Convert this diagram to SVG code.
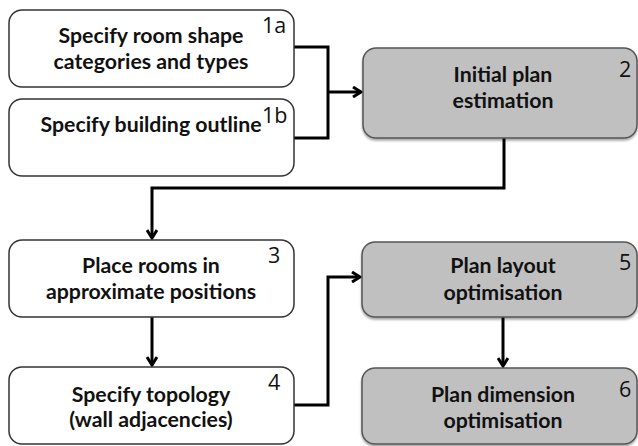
<svg xmlns="http://www.w3.org/2000/svg" width="638" height="446" viewBox="0 0 638 446">
<defs>
<marker id="arr" viewBox="0 0 12 12" refX="10" refY="6" markerWidth="12" markerHeight="12" markerUnits="userSpaceOnUse" orient="auto">
<path d="M2,1 L10,6 L2,11" fill="none" stroke="#000" stroke-width="3"/>
</marker>
<filter id="sh" x="-5%" y="-5%" width="110%" height="120%">
<feDropShadow dx="0" dy="2" stdDeviation="1.2" flood-color="#000" flood-opacity="0.35"/>
</filter>
</defs>
<style>
.w{fill:#fff;stroke:#333;stroke-width:1.5}
.g{fill:#c0c0c0;stroke:#555;stroke-width:1.5}
.t{font-family:Lato,"Liberation Sans",sans-serif;font-weight:bold;font-size:21.3px;fill:#111;text-anchor:middle}
.n{font-family:"Open Sans","Liberation Sans",sans-serif;font-size:21.5px;fill:#111}
.c{fill:none;stroke:#000;stroke-width:3}
</style>
<g id="connectors">
<polyline class="c" points="294,47 328,47 328,138 294,138"/>
<line class="c" x1="328" y1="92" x2="361" y2="92" marker-end="url(#arr)"/>
<polyline class="c" points="504,138 504,188 152,188 152,238" marker-end="url(#arr)"/>
<line class="c" x1="152" y1="317" x2="152" y2="365" marker-end="url(#arr)"/>
<polyline class="c" points="294,405 328,405 328,277 360,277" marker-end="url(#arr)"/>
<line class="c" x1="503" y1="317" x2="503" y2="366" marker-end="url(#arr)"/>
</g>
<g id="node1a">
<rect class="w" x="9" y="10" width="285" height="77" rx="13"/>
<text class="t" x="151" y="43">Specify room shape</text>
<text class="t" x="151" y="69">categories and types</text>
<text class="n" x="262" y="33">1a</text>
</g>
<g id="node1b">
<rect class="w" x="9" y="99" width="285" height="77" rx="13"/>
<text class="t" x="151" y="132">Specify building outline</text>
<text class="n" x="262" y="123">1b</text>
</g>
<g id="node2">
<rect class="g" x="363" y="48" width="274" height="90" rx="13" filter="url(#sh)"/>
<text class="t" x="503" y="82">Initial plan</text>
<text class="t" x="503" y="108">estimation</text>
<text class="n" x="619" y="77">2</text>
</g>
<g id="node3">
<rect class="w" x="9" y="240" width="285" height="77" rx="13"/>
<text class="t" x="151" y="273">Place rooms in</text>
<text class="t" x="151" y="299">approximate positions</text>
<text class="n" x="268" y="263">3</text>
</g>
<g id="node4">
<rect class="w" x="9" y="367" width="285" height="77" rx="13"/>
<text class="t" x="151" y="402">Specify topology</text>
<text class="t" x="151" y="427">(wall adjacencies)</text>
<text class="n" x="268" y="390">4</text>
</g>
<g id="node5">
<rect class="g" x="362" y="242" width="275" height="75" rx="13" filter="url(#sh)"/>
<text class="t" x="503" y="273">Plan layout</text>
<text class="t" x="503" y="300">optimisation</text>
<text class="n" x="619" y="270">5</text>
</g>
<g id="node6">
<rect class="g" x="362" y="368" width="275" height="76" rx="13" filter="url(#sh)"/>
<text class="t" x="503" y="402">Plan dimension</text>
<text class="t" x="503" y="428">optimisation</text>
<text class="n" x="619" y="397">6</text>
</g>
</svg>
